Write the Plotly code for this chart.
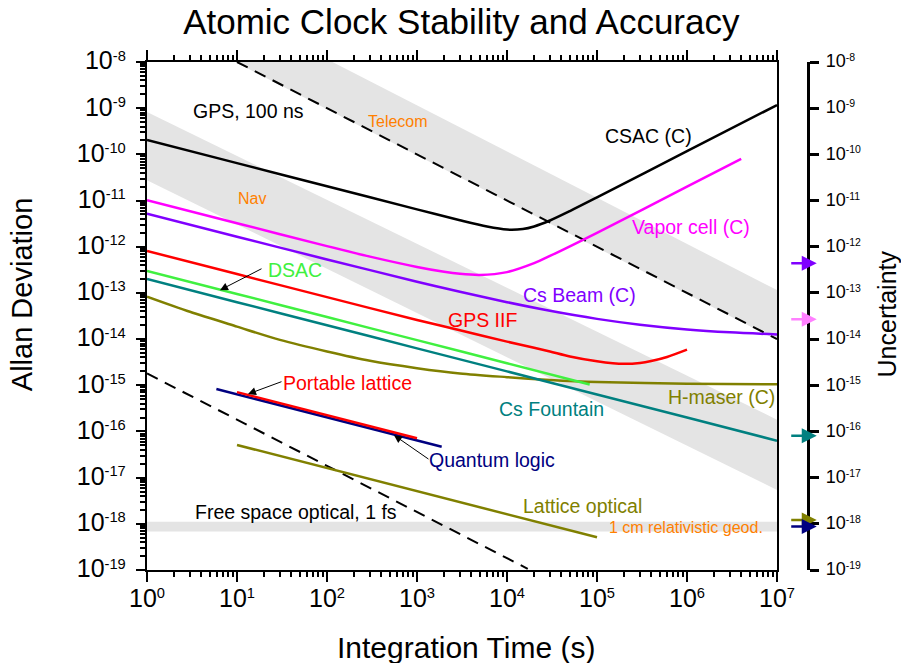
import math
import plotly.graph_objects as go

# ---------------- data ----------------
# shaded regions (integration time, deviation) polygon vertices
telecom_t = [9.55, 115, 1e7, 1e7]
telecom_s = [1e-8, 1e-8, 1.15e-13, 9.5e-15]
nav_t = [1, 1e7, 1e7, 1]
nav_s = [8.3e-10, 1.8e-16, 5.4e-18, 2.75e-11]
geod_t = [1, 1e7, 1e7, 1]
geod_s = [1.11e-18, 1.11e-18, 6.8e-19, 6.8e-19]

# dashed reference lines
gps_t = [10, 1e7]
gps_s = [1e-8, 1e-14]
fs_t = [1, 1.7e4]
fs_s = [1.8e-15, 1.06e-19]

# clock curves
csac_t = [1, 10, 100, 1000, 3000, 6000, 1e4, 1.5e4, 2e4, 3e4, 5e4, 1e5, 1e6, 1e7]
csac_s = [2.04e-10, 6.45e-11, 2.04e-11, 6.45e-12, 3.74e-12, 2.73e-12, 2.35e-12,
          2.42e-12, 2.75e-12, 3.7e-12, 5.92e-12, 1.17e-11, 1.17e-10, 1.17e-9]
vapor_t = [1, 10, 100, 300, 1000, 2000, 3000, 5000, 1e4, 2e4, 3e4, 1e5, 1e6, 4e6]
vapor_s = [1.02e-11, 3.23e-12, 1.03e-12, 6.1e-13, 3.65e-13, 2.87e-13, 2.59e-13, 2.45e-13,
           2.82e-13, 4.4e-13, 6.3e-13, 2.0e-12, 2.0e-11, 8.0e-11]
beam_t = [1, 10, 100, 1e3, 3e3, 1e4, 3e4, 1e5, 3e5, 1e6, 3e6, 1e7]
beam_s = [5.21e-12, 1.65e-12, 5.31e-13, 1.75e-13, 1.06e-13, 6.3e-14, 4.1e-14, 2.74e-14,
          2.05e-14, 1.62e-14, 1.4e-14, 1.26e-14]
gpsiif_t = [1, 10, 100, 1e3, 3e3, 1e4, 2e4, 3e4, 5e4, 1e5, 1.5e5, 2e5, 3e5, 4e5, 6e5, 1e6]
gpsiif_s = [8.1e-13, 2.56e-13, 8.1e-14, 2.6e-14, 1.55e-14, 8.8e-15, 6.5e-15, 5.4e-15,
            4.2e-15, 3.3e-15, 3.0e-15, 2.92e-15, 3.05e-15, 3.35e-15, 4.1e-15, 5.9e-15]
hmaser_t = [1, 3, 10, 30, 100, 300, 1e3, 3e3, 1e4, 3e4, 1e5, 1e6, 1e7]
hmaser_s = [8.3e-14, 3.9e-14, 1.86e-14, 9.6e-15, 5.4e-15, 3.4e-15, 2.35e-15, 1.8e-15,
            1.5e-15, 1.3e-15, 1.17e-15, 1.08e-15, 1.05e-15]
fountain_t = [1, 10, 100, 1e3, 1e4, 1e5, 1e6, 1e7]
fountain_s = [2e-13, 6.3e-14, 2e-14, 6.3e-15, 2e-15, 6.3e-16, 2e-16, 6.3e-17]
dsac_t = [1, 10, 100, 1e3, 1e4, 8.3e4]
dsac_s = [3e-13, 9.5e-14, 3e-14, 9.5e-15, 3e-15, 1.04e-15]
latopt_t = [10, 1e5]
latopt_s = [5.1e-17, 5.1e-19]
qlogic_t = [5.9, 1880]
qlogic_s = [8.3e-16, 4.65e-17]
portable_t = [10, 1000]
portable_s = [7.1e-16, 7.1e-17]

# uncertainty markers on the right axis
unc_values = [4.4e-13, 2.7e-14, 8.1e-17, 1.21e-18, 8.7e-19]
unc_colors = ["#8000FF", "#FF80FF", "#008080", "#808000", "#000080"]

x_exps = list(range(0, 8))
y_exps = list(range(-8, -20, -1))
x_ticks = [10.0 ** k for k in x_exps]
y_ticks = [10.0 ** k for k in y_exps]

FONT = "Liberation Sans, Arial, sans-serif"


def pow_label(exp, base_size):
    return f"<span style='font-size:{base_size}px'>10</span><sup>{exp}</sup>"


x_ticktext = [pow_label(k, 25) for k in x_exps]
y_ticktext = [pow_label(k, 25) for k in y_exps]
y2_ticktext = [pow_label(k, 18) for k in y_exps]

fig = go.Figure()

GRAY = "#E4E4E4"
for tt, ss in [(telecom_t, telecom_s), (nav_t, nav_s), (geod_t, geod_s)]:
    fig.add_trace(go.Scatter(x=tt, y=ss, mode="lines", fill="toself", fillcolor=GRAY,
                             line=dict(width=0, color=GRAY), hoverinfo="skip",
                             showlegend=False))

for tt, ss in [(gps_t, gps_s), (fs_t, fs_s)]:
    fig.add_trace(go.Scatter(x=tt, y=ss, mode="lines",
                             line=dict(color="black", width=2, dash="12px,8px"),
                             showlegend=False))

curves = [
    (csac_t, csac_s, "black"),
    (vapor_t, vapor_s, "#FF00FF"),
    (beam_t, beam_s, "#8000FF"),
    (gpsiif_t, gpsiif_s, "#FF0000"),
    (hmaser_t, hmaser_s, "#808000"),
    (fountain_t, fountain_s, "#008080"),
    (dsac_t, dsac_s, "#40F040"),
    (latopt_t, latopt_s, "#808000"),
    (qlogic_t, qlogic_s, "#000080"),
    (portable_t, portable_s, "#FF0000"),
]
for tt, ss, col in curves:
    fig.add_trace(go.Scatter(x=tt, y=ss, mode="lines",
                             line=dict(color=col, width=2.5, shape="spline", smoothing=0.8),
                             showlegend=False))

# invisible trace to activate the right axis
fig.add_trace(go.Scatter(x=[1], y=[1e-10], yaxis="y2", mode="markers",
                         marker=dict(opacity=0), hoverinfo="skip", showlegend=False))

ann = []
labels = [
    ("GPS, 100 ns", 1.133, -9.061, "black", 19.5),
    ("Telecom", 2.789, -9.278, "#FF8000", 16),
    ("Nav", 1.167, -10.945, "#FF8000", 16),
    ("CSAC (C)", 5.567, -9.602, "black", 19.5),
    ("Vapor cell (C)", 6.044, -11.573, "#FF00FF", 19.5),
    ("Cs Beam (C)", 4.8, -13.045, "#8000FF", 19.5),
    ("GPS IIF", 3.733, -13.587, "#FF0000", 19.5),
    ("DSAC", 1.644, -12.504, "#40F040", 19.5),
    ("Cs Fountain", 4.489, -15.514, "#008080", 19.5),
    ("H-maser (C)", 6.378, -15.254, "#808000", 19.5),
    ("Portable lattice", 2.233, -14.951, "#FF0000", 19.5),
    ("Quantum logic", 3.833, -16.618, "#000080", 19.5),
    ("Lattice optical", 4.844, -17.614, "#808000", 19.5),
    ("1 cm relativistic geod.", 5.989, -18.069, "#FF8000", 16),
    ("Free space optical, 1 fs", 1.656, -17.744, "black", 19.5),
]
for txt, lx, ly, col, sz in labels:
    ann.append(dict(text=txt, x=lx, y=ly, xref="x", yref="y", showarrow=False,
                    font=dict(family=FONT, size=sz, color=col),
                    xanchor="center", yanchor="middle"))

# pointer arrows (head x,y ; tail ax,ay in log units)
pointers = [
    (0.811, -12.94, 1.289, -12.46),
    (1.122, -15.19, 1.511, -14.91),
    (2.744, -16.08, 3.144, -16.62),
]
for hx, hy, tx, ty in pointers:
    ann.append(dict(text="", x=hx, y=hy, ax=tx, ay=ty, xref="x", yref="y",
                    axref="x", ayref="y", showarrow=True, arrowhead=2, arrowsize=1.6,
                    arrowwidth=1, arrowcolor="black", standoff=0, startstandoff=0))

# uncertainty arrows at right axis
for v, col in zip(unc_values, unc_colors):
    ann.append(dict(text="", x=1.0132, y=math.log10(v), xref="paper", yref="y",
                    ax=-27, ay=0, showarrow=True, arrowhead=2, arrowsize=1.2,
                    arrowwidth=2.5, arrowcolor=col, standoff=0))

# axis titles
ann.append(dict(text="Allan Deviation", x=(22 - 147) / 661, y=0.541, xref="paper",
                yref="paper", textangle=-90, showarrow=False,
                xanchor="center", yanchor="middle",
                font=dict(family=FONT, size=29, color="black")))
ann.append(dict(text="Integration Time (s)", x=0.4826, y=-0.1516, xref="paper",
                yref="paper", showarrow=False, xanchor="center", yanchor="middle",
                font=dict(family=FONT, size=30, color="black")))
ann.append(dict(text="Uncertainty", x=1.1195, y=0.505, xref="paper", yref="paper",
                textangle=-90, showarrow=False, xanchor="center", yanchor="middle",
                font=dict(family=FONT, size=25, color="black")))

fig.update_layout(
    width=901, height=663,
    margin=dict(l=147, r=93, t=62, b=93),
    paper_bgcolor="white", plot_bgcolor="white",
    showlegend=False,
    title=dict(text="Atomic Clock Stability and Accuracy", x=0.512, xref="container",
               y=1 - 22 / 663, yref="container", xanchor="center", yanchor="middle",
               font=dict(family=FONT, size=35, color="black")),
    font=dict(family=FONT, color="black"),
    annotations=ann,
    xaxis=dict(type="log", range=[0, 7], domain=[0, 630 / 661], showgrid=False,
               zeroline=False, showline=True, linecolor="black", linewidth=2,
               mirror="ticks", ticks="outside", ticklen=10, tickwidth=2,
               tickcolor="black", tickmode="array", tickvals=x_ticks,
               ticktext=x_ticktext, tickfont=dict(family=FONT, size=21),
               minor=dict(ticks="outside", ticklen=5, tickwidth=1.5, tickcolor="black",
                          dtick="D1", showgrid=False)),
    yaxis=dict(type="log", range=[-19, -8], showgrid=False, zeroline=False,
               showline=True, linecolor="black", linewidth=2, mirror=True,
               ticks="outside", ticklen=9, tickwidth=2, tickcolor="black",
               tickmode="array", tickvals=y_ticks, ticktext=y_ticktext,
               tickfont=dict(family=FONT, size=21), ticklabelstandoff=6,
               minor=dict(ticks="outside", ticklen=5, tickwidth=1.5, tickcolor="black",
                          dtick="D1", showgrid=False)),
    yaxis2=dict(type="log", range=[-19, -8], overlaying="y", anchor="free", position=1,
                side="right", showgrid=False, zeroline=False, showline=True,
                linecolor="black", linewidth=2.5, ticks="outside", ticklen=9,
                tickwidth=2.5, tickcolor="black", tickmode="array", tickvals=y_ticks,
                ticktext=y2_ticktext, tickfont=dict(family=FONT, size=15),
                ticklabelstandoff=4),
)

fig.write_html("out.html")
